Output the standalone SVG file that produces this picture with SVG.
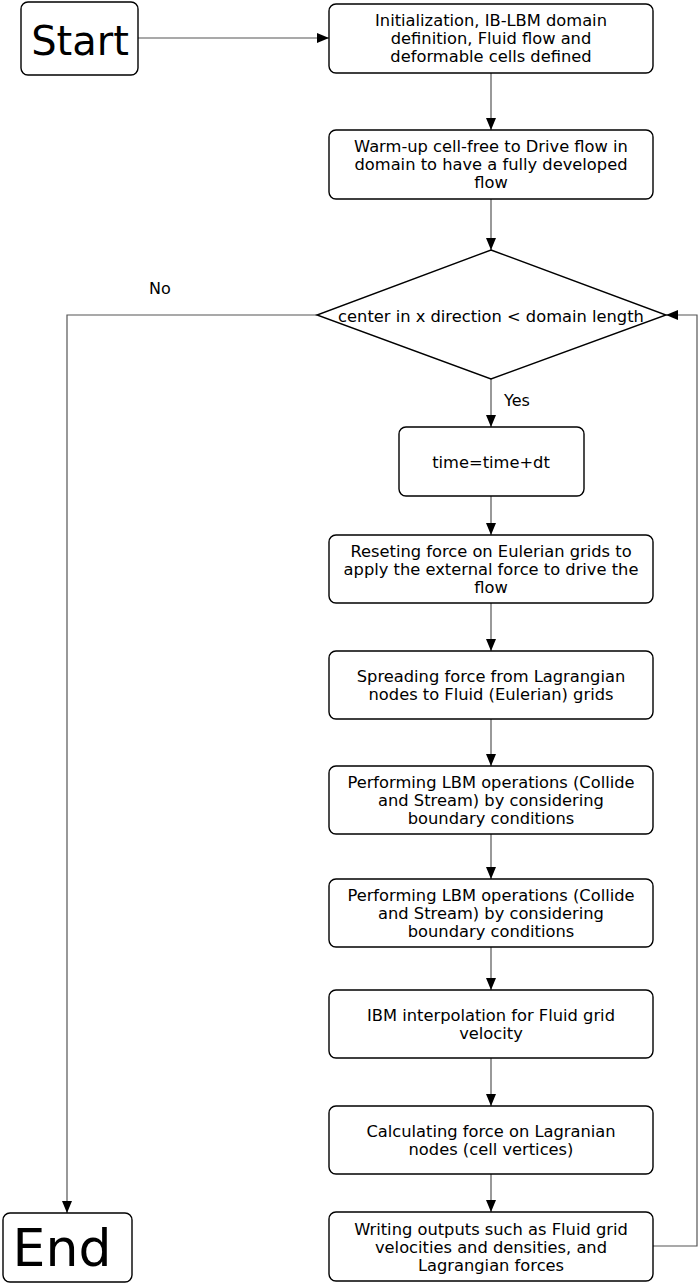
<svg xmlns="http://www.w3.org/2000/svg" width="699" height="1284" viewBox="0 0 699 1284">
<style>
.box{fill:#fff;stroke:#000;stroke-width:1.4}
.t{font-family:"DejaVu Sans",Verdana,sans-serif;font-size:16.3px;fill:#000;text-anchor:middle}
.lbl{font-family:"DejaVu Sans",Verdana,sans-serif;font-size:16px;fill:#000;text-anchor:middle}
.big{font-family:"DejaVu Sans",Verdana,sans-serif;fill:#000;text-anchor:middle}
.c{fill:none;stroke:#555;stroke-width:1.2}
</style>
<defs>
<marker id="ah" viewBox="0 0 12 10" refX="12" refY="5" markerWidth="12" markerHeight="10" markerUnits="userSpaceOnUse" orient="auto">
<path d="M0,0 L12,5 L0,10 z" fill="#000"/>
</marker>
</defs>
<rect width="699" height="1284" fill="#fff"/>
<g id="connectors">
<path class="c" d="M138,38 H329" marker-end="url(#ah)"/>
<path class="c" d="M491,73 V130" marker-end="url(#ah)"/>
<path class="c" d="M491,199 V250" marker-end="url(#ah)"/>
<path class="c" d="M491,379 V427" marker-end="url(#ah)"/>
<path class="c" d="M491,496 V535" marker-end="url(#ah)"/>
<path class="c" d="M491,603 V651" marker-end="url(#ah)"/>
<path class="c" d="M491,719 V766" marker-end="url(#ah)"/>
<path class="c" d="M491,834 V879" marker-end="url(#ah)"/>
<path class="c" d="M491,947 V990" marker-end="url(#ah)"/>
<path class="c" d="M491,1058 V1106" marker-end="url(#ah)"/>
<path class="c" d="M491,1174 V1212" marker-end="url(#ah)"/>
<path class="c" d="M317,315 H67 V1213" marker-end="url(#ah)"/>
<path class="c" d="M653,1246 H697 V315 H666" marker-end="url(#ah)"/>
<text class="lbl" x="160" y="294">No</text>
<text class="lbl" x="517" y="406">Yes</text>
</g>
<g id="start">
<rect class="box" x="21" y="2" width="117" height="73" rx="7"/>
<text class="big" x="80" y="55" font-size="40">Start</text>
</g>
<g id="init">
<rect class="box" x="329" y="4" width="324" height="69" rx="7"/>
<text class="t" x="491" y="26">Initialization, IB-LBM domain</text>
<text class="t" x="491" y="44">definition, Fluid flow and</text>
<text class="t" x="491" y="62">deformable cells defined</text>
</g>
<g id="warmup">
<rect class="box" x="329" y="130" width="324" height="69" rx="7"/>
<text class="t" x="491" y="152">Warm-up cell-free to Drive flow in</text>
<text class="t" x="491" y="170">domain to have a fully developed</text>
<text class="t" x="491" y="188">flow</text>
</g>
<g id="decision">
<polygon class="box" points="491,250 666,315 491,379 317,315"/>
<text class="t" x="491" y="322">center in x direction &lt; domain length</text>
</g>
<g id="time">
<rect class="box" x="399" y="427" width="185" height="69" rx="7"/>
<text class="t" x="491" y="468">time=time+dt</text>
</g>
<g id="reset">
<rect class="box" x="329" y="535" width="324" height="68" rx="7"/>
<text class="t" x="491" y="557">Reseting force on Eulerian grids to</text>
<text class="t" x="491" y="575">apply the external force to drive the</text>
<text class="t" x="491" y="593">flow</text>
</g>
<g id="spread">
<rect class="box" x="329" y="651" width="324" height="68" rx="7"/>
<text class="t" x="491" y="682">Spreading force from Lagrangian</text>
<text class="t" x="491" y="700">nodes to Fluid (Eulerian) grids</text>
</g>
<g id="lbm1">
<rect class="box" x="329" y="766" width="324" height="68" rx="7"/>
<text class="t" x="491" y="788">Performing LBM operations (Collide</text>
<text class="t" x="491" y="806">and Stream) by considering</text>
<text class="t" x="491" y="824">boundary conditions</text>
</g>
<g id="lbm2">
<rect class="box" x="329" y="879" width="324" height="68" rx="7"/>
<text class="t" x="491" y="901">Performing LBM operations (Collide</text>
<text class="t" x="491" y="919">and Stream) by considering</text>
<text class="t" x="491" y="937">boundary conditions</text>
</g>
<g id="ibm">
<rect class="box" x="329" y="990" width="324" height="68" rx="7"/>
<text class="t" x="491" y="1021">IBM interpolation for Fluid grid</text>
<text class="t" x="491" y="1039">velocity</text>
</g>
<g id="calc">
<rect class="box" x="329" y="1106" width="324" height="68" rx="7"/>
<text class="t" x="491" y="1137">Calculating force on Lagranian</text>
<text class="t" x="491" y="1155">nodes (cell vertices)</text>
</g>
<g id="write">
<rect class="box" x="329" y="1212" width="324" height="69" rx="7"/>
<text class="t" x="491" y="1235">Writing outputs such as Fluid grid</text>
<text class="t" x="491" y="1253">velocities and densities, and</text>
<text class="t" x="491" y="1271">Lagrangian forces</text>
</g>
<g id="end">
<rect class="box" x="3" y="1213" width="129" height="69" rx="7"/>
<text class="big" x="62" y="1266" font-size="52">End</text>
</g>
</svg>
